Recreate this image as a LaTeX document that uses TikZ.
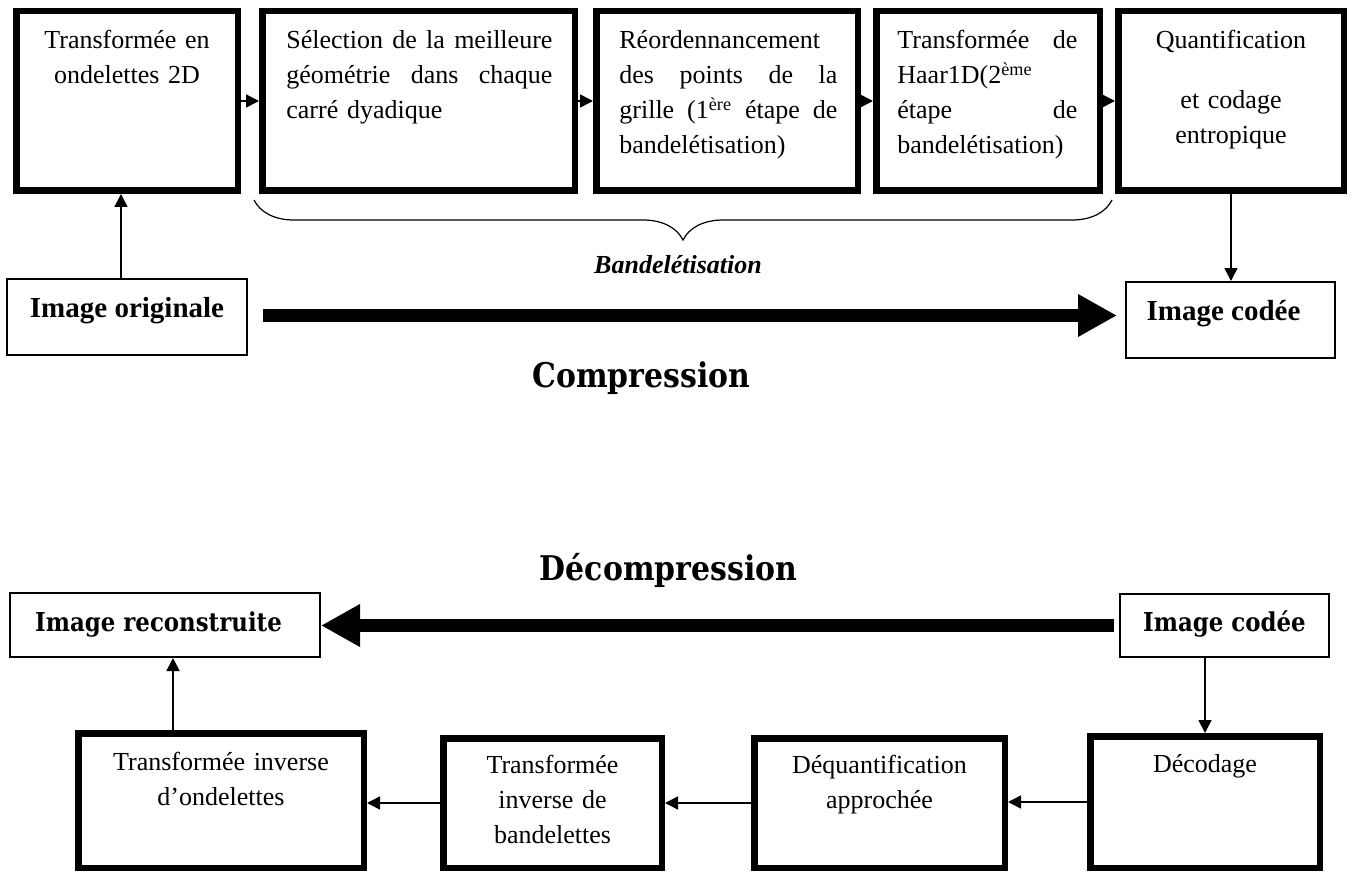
\documentclass[tikz,border=0pt]{standalone}
\usepackage{fontspec}
\setmainfont{Liberation Serif}
\newfontfamily\capfont[FakeStretch=0.88]{DejaVu Serif}
\usepackage{tikz}
\usetikzlibrary{arrows.meta,decorations.pathreplacing}

% one line spread over the full text width
\newcommand\justline[1]{\makebox[\hsize][s]{\spaceskip=0.25em plus 1fil\relax #1}}

\tikzset{
  stage/.style={draw, line width=3.25pt, inner sep=0pt},
  imgbox/.style={draw, line width=1pt, inner sep=0pt,
    font=\fontsize{14.5}{17}\selectfont\bfseries, text height=10pt, text depth=10pt},
  imgboxb/.style={draw, line width=1pt, inner sep=0pt,
    font=\capfont\bfseries\fontsize{13}{15}\selectfont, text height=12pt, text depth=6pt},
  txt/.style={inner sep=0pt, font=\fontsize{13}{17.5}\selectfont},
  title/.style={inner sep=0pt, font=\capfont\bfseries\fontsize{17}{20}\selectfont},
  arr/.style={-{Triangle[length=6.5pt,width=6.5pt]}, line width=0.8pt},
  bigarr/.style={-{Triangle[length=19.5pt,width=20pt]}, line width=6.5pt},
}

\begin{document}
\begin{tikzpicture}[x=0.5pt, y=-0.5pt]
\path[use as bounding box, fill=white] (0,0) rectangle (1356,872);

% compression chain
\node[stage, minimum width=110.75pt, minimum height=89.75pt] (wav) at (127,101) {};
\node[stage, minimum width=156.25pt, minimum height=89.75pt] (sel) at (418.5,101) {};
\node[stage, minimum width=130.75pt, minimum height=89.75pt] (reo) at (727,101) {};
\node[stage, minimum width=111.75pt, minimum height=89.75pt] (haar) at (988,101) {};
\node[stage, minimum width=112.75pt, minimum height=89.75pt] (quant) at (1231,101) {};

\node[txt, text width=100pt, align=center, anchor=base] at ([yshift=-20.5pt]wav.north)
  {Transformée en\\ondelettes 2D};
\node[txt, text width=133pt, align=left, anchor=base west] at ([xshift=13.5pt,yshift=-20.5pt]sel.north west)
  {\justline{Sélection de la meilleure}\\\justline{géométrie dans chaque}\\carré dyadique};
\node[txt, text width=109pt, align=left, anchor=base west] at ([xshift=13pt,yshift=-20.5pt]reo.north west)
  {Réordennancement\\\justline{des points de la}\\\justline{grille (1\textsuperscript{ère} étape de}\\bandelétisation)};
\node[txt, text width=90pt, align=left, anchor=base west] at ([xshift=12pt,yshift=-20.5pt]haar.north west)
  {\justline{Transformée de}\\Haar1D(2\textsuperscript{ème}\\\justline{étape de}\\bandelétisation)};
\node[txt, text width=105pt, align=center, anchor=base] at ([yshift=-20.5pt]quant.north)
  {Quantification\\[12.5pt]et codage\\entropique};

\draw[arr] (wav.east) -- (sel.west);
\draw[arr] (sel.east) -- (reo.west);
\draw[arr] (reo.east) -- (haar.west);
\draw[arr] (haar.east) -- (quant.west);

\draw[decorate, decoration={brace, mirror, amplitude=20pt}, line width=0.6pt]
  ([xshift=-2.5pt,yshift=-3pt]sel.south west) -- ([xshift=4.5pt,yshift=-3pt]haar.south east);
\node[inner sep=0pt, font=\fontsize{13}{15}\selectfont\bfseries\itshape, anchor=base] (band) at (678,273) {Bandelétisation};

\node[imgbox, minimum width=120pt, minimum height=38pt] (orig) at (127,317) {Image originale};
\node[imgbox, minimum width=104.5pt, minimum height=38pt] (codeA) at (1230.5,320) {Image codée\hspace*{7pt}};

\draw[arr] ([xshift=-3pt]orig.north) -- ([xshift=-3pt]wav.south);
\draw[arr] (quant.south) -- (quant.south |- codeA.north);
\coordinate (ca) at (orig.east -| codeA.west);
\draw[bigarr] ([xshift=7.5pt,yshift=0.75pt]orig.east) -- ([xshift=-4pt,yshift=0.75pt]ca);

\node[title, anchor=base] (comp) at (641.5,387) {Compression};
\node[title, anchor=base] (decomp) at (668.5,580) {Décompression};

% decompression chain
\node[imgboxb, minimum width=155pt, minimum height=32pt] (recon) at (165,625) {Image reconstruite\hspace*{6.5pt}};
\node[imgboxb, minimum width=104.5pt, minimum height=31.5pt] (codeB) at (1224.5,625.5) {Image codée};

\node[stage, minimum width=142.75pt, minimum height=67.25pt] (ti) at (221,800.5) {};
\node[stage, minimum width=109.25pt, minimum height=64.75pt] (tib) at (552.5,803) {};
\node[stage, minimum width=125.25pt, minimum height=64.75pt] (deq) at (879.5,803) {};
\node[stage, minimum width=114.75pt, minimum height=65.75pt] (dec) at (1205,802) {};

\node[txt, text width=140pt, align=center, anchor=base] at ([yshift=-20pt]ti.north)
  {Transformée inverse\\d’ondelettes};
\node[txt, text width=105pt, align=center, anchor=base] at ([yshift=-19pt]tib.north)
  {Transformée\\inverse de\\bandelettes};
\node[txt, text width=120pt, align=center, anchor=base] at ([yshift=-19pt]deq.north)
  {Déquantification\\approchée};
\node[txt, text width=110pt, align=center, anchor=base] at ([yshift=-19.5pt]dec.north)
  {Décodage};

\draw[bigarr] ([xshift=-2.5pt]codeB.west) -- (codeB.west -| recon.east);
\draw[arr] (codeB.south -| dec.north) -- (dec.north);
\draw[arr] (dec.west) -- (dec.west -| deq.east);
\draw[arr] (deq.west) -- (deq.west -| tib.east);
\draw[arr] (tib.west) -- (tib.west -| ti.east);
\coordinate (up) at ([xshift=4pt]recon.south);
\draw[arr] (up |- ti.north) -- (up);
\end{tikzpicture}
\end{document}
